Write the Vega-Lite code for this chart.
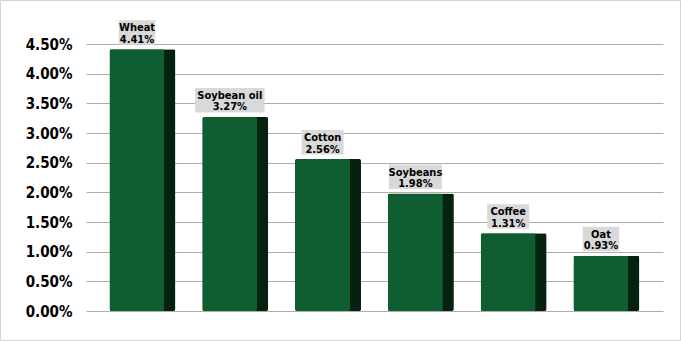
{
  "$schema": "https://vega.github.io/schema/vega-lite/v6.json",
  "width": 577,
  "height": 267,
  "autosize": "none",
  "padding": {"left": 86, "top": 44, "right": 18, "bottom": 30},
  "background": "white",
  "config": {
    "view": {"stroke": null},
    "axisY": {"format": ".2%", "labelFont": "DejaVu Sans Condensed, Liberation Sans", "labelFontSize": 15,
      "labelFontWeight": "bold", "labelColor": "#000000", "domain": false, "ticks": false,
      "labelOverlap": false, "labelFlush": false, "labelBound": false,
      "title": null, "gridColor": "#adadad", "labelPadding": 14}
  },
  "data": {"values": [
    {"cat": "Wheat", "v": 0.0441},
    {"cat": "Soybean oil", "v": 0.0327},
    {"cat": "Cotton", "v": 0.0256},
    {"cat": "Soybeans", "v": 0.0198},
    {"cat": "Coffee", "v": 0.0131},
    {"cat": "Oat", "v": 0.0093}
  ]},
  "resolve": {"scale": {"x": "independent"}, "axis": {"x": "independent"}},
  "layer": [
    {
      "encoding": {
        "x": {"field": "cat", "type": "nominal", "sort": null, "scale": {"paddingInner": 0.3, "paddingOuter": 0.259}, "axis": null}
      },
      "layer": [
        {
          "mark": {"type": "bar", "width": 66, "color": "#05210f", "cornerRadius": 2},
          "encoding": {
            "y": {"field": "v", "type": "quantitative",
              "scale": {"domain": [0, 0.045], "nice": false},
              "axis": {"values": [0, 0.005, 0.01, 0.015, 0.02, 0.025, 0.03, 0.035, 0.04, 0.045], "title": null}}
          }
        },
        {
          "mark": {"type": "bar", "width": 55, "xOffset": -5.5, "color": "#0f5e32", "cornerRadius": 2},
          "encoding": {"y": {"field": "v", "type": "quantitative", "axis": {"values": [0, 0.005, 0.01, 0.015, 0.02, 0.025, 0.03, 0.035, 0.04, 0.045], "title": null}}}
        },
        {
          "mark": {"type": "bar", "color": "#d9d9d9", "width": {"expr": "5.5*max(length(datum.cat), 5)+9"},
            "xOffset": -5.5, "yOffset": -4.5, "y2Offset": -29},
          "encoding": {"y": {"field": "v", "type": "quantitative", "axis": {"values": [0, 0.005, 0.01, 0.015, 0.02, 0.025, 0.03, 0.035, 0.04, 0.045], "title": null}}, "y2": {"field": "v"}}
        },
        {
          "transform": [{"calculate": "datum.cat + '\\n' + format(datum.v, '.2%')", "as": "label"}],
          "mark": {"type": "text", "lineBreak": "\n", "font": "DejaVu Sans Condensed, Liberation Sans",
            "fontSize": 11, "fontWeight": "bold", "lineHeight": 11.5, "baseline": "alphabetic",
            "dy": -18, "xOffset": -5.5, "color": "#000000"},
          "encoding": {"y": {"field": "v", "type": "quantitative", "axis": {"values": [0, 0.005, 0.01, 0.015, 0.02, 0.025, 0.03, 0.035, 0.04, 0.045], "title": null}}, "text": {"field": "label"}}
        }
      ]
    },
    {
      "data": {"values": [{"a": -0.1482, "b": 1.0303, "c": 0.05233, "d": -0.00497}]},
      "mark": {"type": "rect", "filled": false, "stroke": "#d4d4d4", "strokeWidth": 1},
      "encoding": {
        "x": {"field": "a", "type": "quantitative", "scale": {"domain": [0, 1], "nice": false, "zero": false}, "axis": null},
        "x2": {"field": "b"},
        "y": {"field": "c", "type": "quantitative", "axis": {"values": [0, 0.005, 0.01, 0.015, 0.02, 0.025, 0.03, 0.035, 0.04, 0.045], "title": null}},
        "y2": {"field": "d"}
      }
    }
  ]
}
